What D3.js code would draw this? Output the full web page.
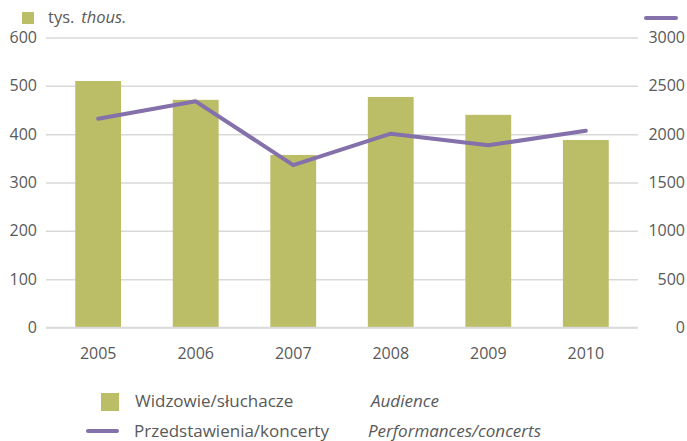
<!DOCTYPE html>
<html>
<head>
<meta charset="utf-8">
<script src="https://cdn.jsdelivr.net/npm/d3@7"></script>
<style>
  body { margin: 0; background: #fff; }
  svg text { font-family: "Open Sans", sans-serif; fill: #595959; }
</style>
</head>
<body>
<svg class="chart" width="687" height="441"></svg>
<script>
// data
var years = ["2005", "2006", "2007", "2008", "2009", "2010"];
var audience = [510, 471, 357, 477, 440, 388];          // tys. / thous.
var performances = [2160, 2340, 1680, 2005, 1885, 2035];
var leftTicks = [0, 100, 200, 300, 400, 500, 600];
var rightTicks = [0, 500, 1000, 1500, 2000, 2500, 3000];

var barColor = "#bbbe66";
var lineColor = "#8470aa";

var svg = d3.select("svg.chart");
var plotL = 46, plotR = 638, plotT = 37.5, plotB = 327.5;

var x = d3.scaleBand().domain(years).range([plotL, plotR]).paddingInner(0.53).paddingOuter(0.3);
var yL = d3.scaleLinear().domain([0, 600]).range([plotB, plotT]);
var yR = d3.scaleLinear().domain([0, 3000]).range([plotB, plotT]);

// gridlines
svg.append("g")
    .attr("transform", "translate(" + plotL + ",0)")
    .call(d3.axisLeft(yL).tickValues(leftTicks).tickSize(-(plotR - plotL)).tickFormat(""))
    .call(function(g) {
        g.select(".domain").remove();
        g.selectAll("line").attr("stroke", "#d9d9d9").attr("stroke-width", 1.5);
    });

// bars
svg.selectAll("rect.bar")
    .data(audience)
    .enter()
    .append("rect")
    .attr("class", "bar")
    .attr("x", function(d, i) { return x(years[i]); })
    .attr("width", x.bandwidth())
    .attr("y", function(d) { return yL(d); })
    .attr("height", function(d) { return plotB - yL(d); })
    .attr("fill", barColor);

// baseline
svg.append("line")
    .attr("x1", plotL).attr("x2", plotR)
    .attr("y1", plotB).attr("y2", plotB)
    .attr("stroke", "#d9d9d9").attr("stroke-width", 1.5);

// line
var line = d3.line()
    .x(function(d, i) { return x(years[i]) + x.bandwidth() / 2; })
    .y(function(d) { return yR(d); });

svg.append("path")
    .datum(performances)
    .attr("d", line)
    .attr("fill", "none")
    .attr("stroke", lineColor)
    .attr("stroke-width", 4)
    .attr("stroke-linecap", "round")
    .attr("stroke-linejoin", "round");

// axes labels
var axL = svg.append("g")
    .attr("transform", "translate(" + plotL + ",0)")
    .call(d3.axisLeft(yL).tickValues(leftTicks).tickSize(0).tickPadding(9));
var axR = svg.append("g")
    .attr("transform", "translate(" + plotR + ",0)")
    .call(d3.axisRight(yR).tickValues(rightTicks).tickFormat(d3.format("d")).tickSize(0).tickPadding(9));
var axX = svg.append("g")
    .attr("transform", "translate(0," + plotB + ")")
    .call(d3.axisBottom(x).tickSize(0).tickPadding(20));
[axL, axR, axX].forEach(function(g) {
    g.select(".domain").remove();
    g.selectAll("text").attr("font-size", 16).attr("fill", "#595959")
        .style("font-family", "'Open Sans', sans-serif");
});
axR.selectAll("text").attr("text-anchor", "end").attr("dx", 38);

// top legend
svg.append("rect").attr("x", 22).attr("y", 12).attr("width", 12).attr("height", 12).attr("fill", barColor);
var unit = svg.append("text").attr("x", 48).attr("y", 23).attr("font-size", 16.5);
unit.append("tspan").text("tys.");
unit.append("tspan").attr("dx", 7).attr("font-style", "italic").text("thous.");
svg.append("line").attr("x1", 646).attr("x2", 676).attr("y1", 18).attr("y2", 18)
    .attr("stroke", lineColor).attr("stroke-width", 4).attr("stroke-linecap", "round");

// bottom legend
svg.append("rect").attr("x", 101).attr("y", 393).attr("width", 18).attr("height", 18).attr("fill", barColor);
svg.append("text").attr("x", 135).attr("y", 407).attr("font-size", 17).text("Widzowie/słuchacze");
svg.append("text").attr("x", 371).attr("y", 407).attr("font-size", 17).attr("font-style", "italic").text("Audience");
svg.append("line").attr("x1", 88).attr("x2", 117).attr("y1", 431).attr("y2", 431)
    .attr("stroke", lineColor).attr("stroke-width", 4).attr("stroke-linecap", "round");
svg.append("text").attr("x", 134).attr("y", 437).attr("font-size", 17).text("Przedstawienia/koncerty");
svg.append("text").attr("x", 368).attr("y", 437).attr("font-size", 17).attr("font-style", "italic").text("Performances/concerts");
</script>
</body>
</html>
